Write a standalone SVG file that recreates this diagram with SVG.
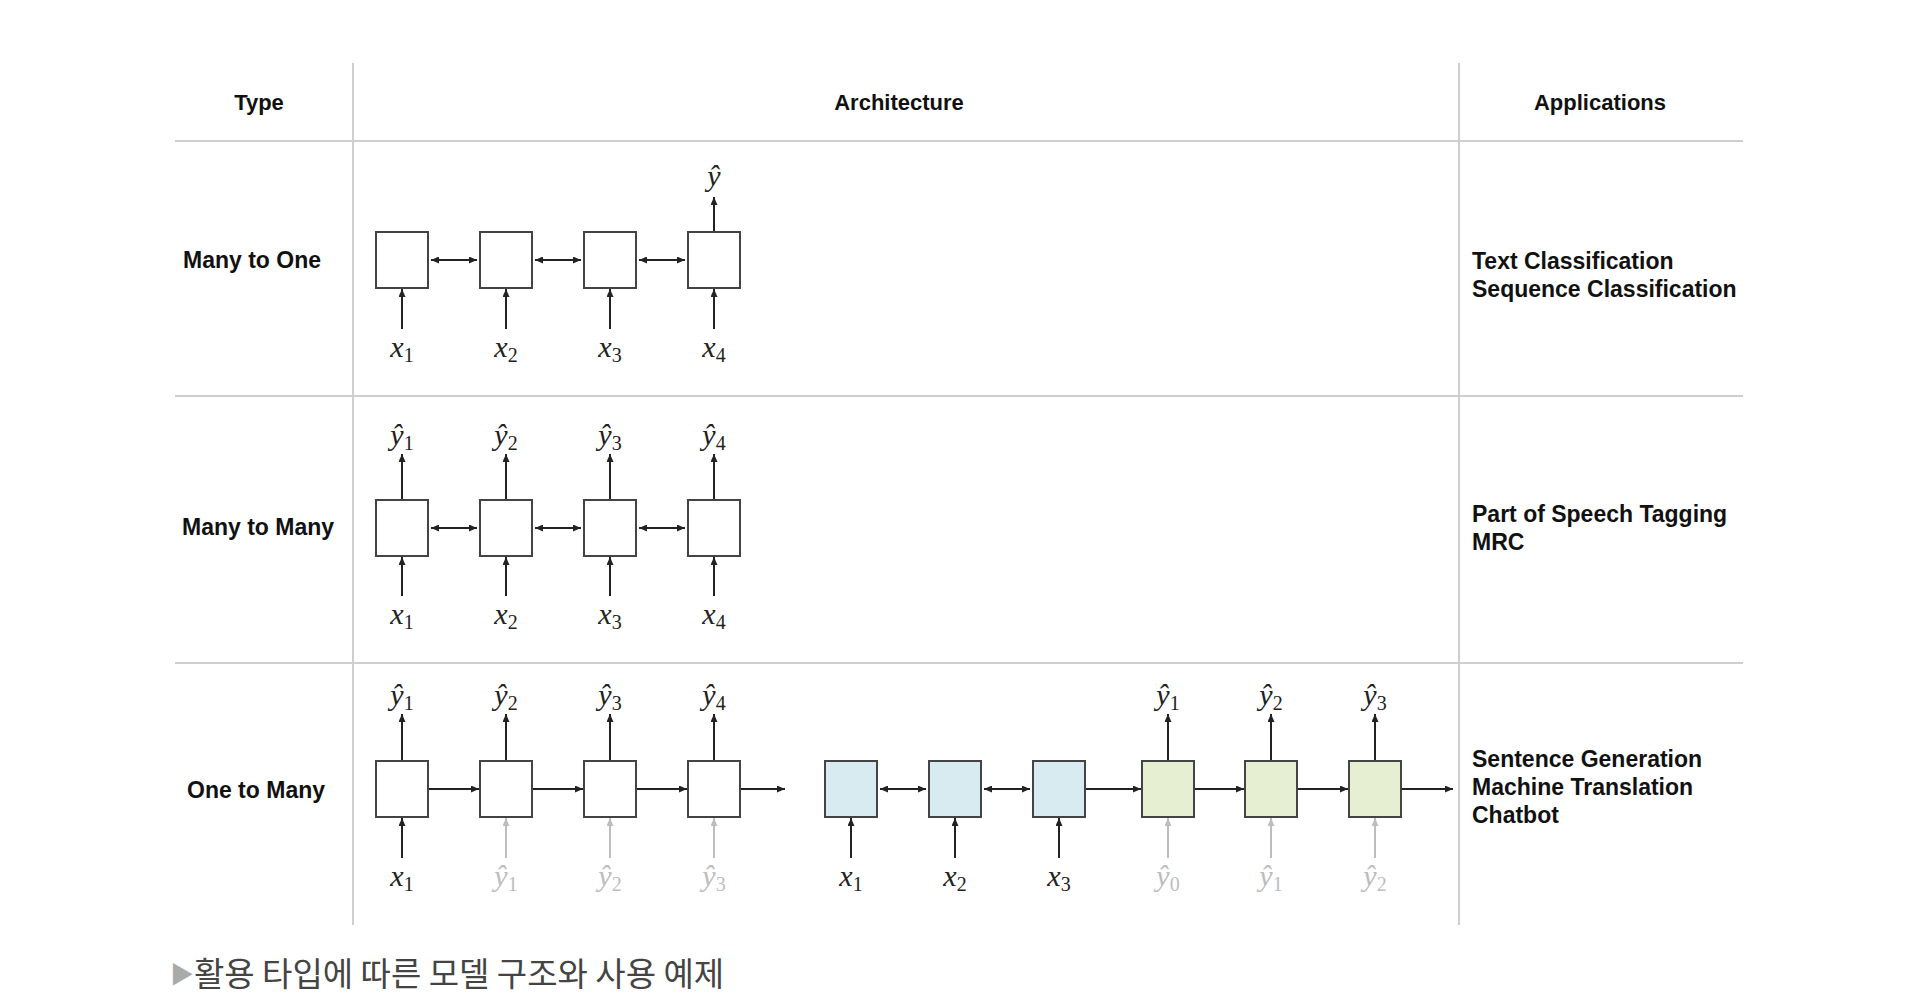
<svg xmlns="http://www.w3.org/2000/svg" width="1930" height="999" viewBox="0 0 1930 999">
<style>
.grid{stroke:#cfcfcf;stroke-width:2;fill:none}
.hdr{font-family:"Liberation Sans",Arial,sans-serif;font-weight:bold;font-size:22px;fill:#111;text-anchor:middle}
.lbl{font-family:"Liberation Sans",Arial,sans-serif;font-weight:bold;font-size:23px;fill:#111}
.box{fill:#fff;stroke:#444;stroke-width:2}
.enc{fill:#d8ebf0;stroke:#444;stroke-width:2}
.dec{fill:#e6efd2;stroke:#444;stroke-width:2}
.m{font-family:"Liberation Serif","Times New Roman",serif;font-style:italic;font-size:30px;fill:#222;text-anchor:middle}
.m tspan{font-size:20px;font-style:normal}
.mg{fill:#bdbdbd}
.c{stroke:#222;stroke-width:2;fill:none}
.cg{stroke:#bdbdbd;stroke-width:2;fill:none}
.cap{font-family:"Noto Sans CJK KR","Noto Sans",sans-serif;font-size:33px;fill:#444}
</style>
<defs>
<marker id="ah" viewBox="0 0 8 7" refX="8" refY="3.5" markerWidth="8" markerHeight="7" markerUnits="userSpaceOnUse" orient="auto-start-reverse"><path d="M0,0 L8,3.5 L0,7 z" fill="#222"/></marker>
<marker id="ahg" viewBox="0 0 8 7" refX="8" refY="3.5" markerWidth="8" markerHeight="7" markerUnits="userSpaceOnUse" orient="auto-start-reverse"><path d="M0,0 L8,3.5 L0,7 z" fill="#bdbdbd"/></marker>
</defs>
<rect width="1930" height="999" fill="#fff"/>

<g id="table">
<line class="grid" x1="353" y1="63" x2="353" y2="925"/>
<line class="grid" x1="1459" y1="63" x2="1459" y2="925"/>
<line class="grid" x1="175" y1="141" x2="1743" y2="141"/>
<line class="grid" x1="175" y1="396" x2="1743" y2="396"/>
<line class="grid" x1="175" y1="663" x2="1743" y2="663"/>
<text class="hdr" x="259" y="110">Type</text>
<text class="hdr" x="899" y="110">Architecture</text>
<text class="hdr" x="1600" y="110">Applications</text>
<text class="lbl" x="183" y="268">Many to One</text>
<text class="lbl" x="182" y="535">Many to Many</text>
<text class="lbl" x="187" y="798">One to Many</text>
<text class="lbl" x="1472" y="269">Text Classification</text>
<text class="lbl" x="1472" y="297">Sequence Classification</text>
<text class="lbl" x="1472" y="522">Part of Speech Tagging</text>
<text class="lbl" x="1472" y="550">MRC</text>
<text class="lbl" x="1472" y="767">Sentence Generation</text>
<text class="lbl" x="1472" y="795">Machine Translation</text>
<text class="lbl" x="1472" y="823">Chatbot</text>
</g>

<g id="connectors">
<line class="c" x1="431" y1="260" x2="477" y2="260" marker-start="url(#ah)" marker-end="url(#ah)"/>
<line class="c" x1="535" y1="260" x2="581" y2="260" marker-start="url(#ah)" marker-end="url(#ah)"/>
<line class="c" x1="639" y1="260" x2="685" y2="260" marker-start="url(#ah)" marker-end="url(#ah)"/>
<line class="c" x1="402" y1="329" x2="402" y2="289" marker-end="url(#ah)"/>
<line class="c" x1="506" y1="329" x2="506" y2="289" marker-end="url(#ah)"/>
<line class="c" x1="610" y1="329" x2="610" y2="289" marker-end="url(#ah)"/>
<line class="c" x1="714" y1="329" x2="714" y2="289" marker-end="url(#ah)"/>
<line class="c" x1="714" y1="231" x2="714" y2="197" marker-end="url(#ah)"/>
<line class="c" x1="431" y1="528" x2="477" y2="528" marker-start="url(#ah)" marker-end="url(#ah)"/>
<line class="c" x1="535" y1="528" x2="581" y2="528" marker-start="url(#ah)" marker-end="url(#ah)"/>
<line class="c" x1="639" y1="528" x2="685" y2="528" marker-start="url(#ah)" marker-end="url(#ah)"/>
<line class="c" x1="402" y1="596" x2="402" y2="557" marker-end="url(#ah)"/>
<line class="c" x1="506" y1="596" x2="506" y2="557" marker-end="url(#ah)"/>
<line class="c" x1="610" y1="596" x2="610" y2="557" marker-end="url(#ah)"/>
<line class="c" x1="714" y1="596" x2="714" y2="557" marker-end="url(#ah)"/>
<line class="c" x1="402" y1="499" x2="402" y2="454" marker-end="url(#ah)"/>
<line class="c" x1="506" y1="499" x2="506" y2="454" marker-end="url(#ah)"/>
<line class="c" x1="610" y1="499" x2="610" y2="454" marker-end="url(#ah)"/>
<line class="c" x1="714" y1="499" x2="714" y2="454" marker-end="url(#ah)"/>
<line class="c" x1="429" y1="789" x2="479" y2="789" marker-end="url(#ah)"/>
<line class="c" x1="533" y1="789" x2="583" y2="789" marker-end="url(#ah)"/>
<line class="c" x1="637" y1="789" x2="687" y2="789" marker-end="url(#ah)"/>
<line class="c" x1="741" y1="789" x2="785" y2="789" marker-end="url(#ah)"/>
<line class="c" x1="402" y1="858" x2="402" y2="818" marker-end="url(#ah)"/>
<line class="cg" x1="506" y1="858" x2="506" y2="818" marker-end="url(#ahg)"/>
<line class="cg" x1="610" y1="858" x2="610" y2="818" marker-end="url(#ahg)"/>
<line class="cg" x1="714" y1="858" x2="714" y2="818" marker-end="url(#ahg)"/>
<line class="c" x1="402" y1="760" x2="402" y2="714" marker-end="url(#ah)"/>
<line class="c" x1="506" y1="760" x2="506" y2="714" marker-end="url(#ah)"/>
<line class="c" x1="610" y1="760" x2="610" y2="714" marker-end="url(#ah)"/>
<line class="c" x1="714" y1="760" x2="714" y2="714" marker-end="url(#ah)"/>
<line class="c" x1="880" y1="789" x2="926" y2="789" marker-start="url(#ah)" marker-end="url(#ah)"/>
<line class="c" x1="984" y1="789" x2="1030" y2="789" marker-start="url(#ah)" marker-end="url(#ah)"/>
<line class="c" x1="1086" y1="789" x2="1141" y2="789" marker-end="url(#ah)"/>
<line class="c" x1="1195" y1="789" x2="1244" y2="789" marker-end="url(#ah)"/>
<line class="c" x1="1298" y1="789" x2="1348" y2="789" marker-end="url(#ah)"/>
<line class="c" x1="1402" y1="789" x2="1453" y2="789" marker-end="url(#ah)"/>
<line class="c" x1="851" y1="858" x2="851" y2="818" marker-end="url(#ah)"/>
<line class="c" x1="955" y1="858" x2="955" y2="818" marker-end="url(#ah)"/>
<line class="c" x1="1059" y1="858" x2="1059" y2="818" marker-end="url(#ah)"/>
<line class="cg" x1="1168" y1="858" x2="1168" y2="818" marker-end="url(#ahg)"/>
<line class="cg" x1="1271" y1="858" x2="1271" y2="818" marker-end="url(#ahg)"/>
<line class="cg" x1="1375" y1="858" x2="1375" y2="818" marker-end="url(#ahg)"/>
<line class="c" x1="1168" y1="760" x2="1168" y2="714" marker-end="url(#ah)"/>
<line class="c" x1="1271" y1="760" x2="1271" y2="714" marker-end="url(#ah)"/>
<line class="c" x1="1375" y1="760" x2="1375" y2="714" marker-end="url(#ah)"/>
</g>

<g id="row1">
<g id="r1n1"><rect class="box" x="376" y="232" width="52" height="56"/><text class="m" x="402" y="357">x<tspan dy="5">1</tspan></text></g>
<g id="r1n2"><rect class="box" x="480" y="232" width="52" height="56"/><text class="m" x="506" y="357">x<tspan dy="5">2</tspan></text></g>
<g id="r1n3"><rect class="box" x="584" y="232" width="52" height="56"/><text class="m" x="610" y="357">x<tspan dy="5">3</tspan></text></g>
<g id="r1n4"><rect class="box" x="688" y="232" width="52" height="56"/><text class="m" x="714" y="357">x<tspan dy="5">4</tspan></text><text class="m" x="714" y="186">ŷ</text></g>
</g>

<g id="row2">
<g id="r2n1"><rect class="box" x="376" y="500" width="52" height="56"/><text class="m" x="402" y="624">x<tspan dy="5">1</tspan></text><text class="m" x="402" y="445">ŷ<tspan dy="5">1</tspan></text></g>
<g id="r2n2"><rect class="box" x="480" y="500" width="52" height="56"/><text class="m" x="506" y="624">x<tspan dy="5">2</tspan></text><text class="m" x="506" y="445">ŷ<tspan dy="5">2</tspan></text></g>
<g id="r2n3"><rect class="box" x="584" y="500" width="52" height="56"/><text class="m" x="610" y="624">x<tspan dy="5">3</tspan></text><text class="m" x="610" y="445">ŷ<tspan dy="5">3</tspan></text></g>
<g id="r2n4"><rect class="box" x="688" y="500" width="52" height="56"/><text class="m" x="714" y="624">x<tspan dy="5">4</tspan></text><text class="m" x="714" y="445">ŷ<tspan dy="5">4</tspan></text></g>
</g>

<g id="row3">
<g id="r3n1"><rect class="box" x="376" y="761" width="52" height="56"/><text class="m" x="402" y="886">x<tspan dy="5">1</tspan></text><text class="m" x="402" y="705">ŷ<tspan dy="5">1</tspan></text></g>
<g id="r3n2"><rect class="box" x="480" y="761" width="52" height="56"/><text class="m mg" x="506" y="886">ŷ<tspan dy="5">1</tspan></text><text class="m" x="506" y="705">ŷ<tspan dy="5">2</tspan></text></g>
<g id="r3n3"><rect class="box" x="584" y="761" width="52" height="56"/><text class="m mg" x="610" y="886">ŷ<tspan dy="5">2</tspan></text><text class="m" x="610" y="705">ŷ<tspan dy="5">3</tspan></text></g>
<g id="r3n4"><rect class="box" x="688" y="761" width="52" height="56"/><text class="m mg" x="714" y="886">ŷ<tspan dy="5">3</tspan></text><text class="m" x="714" y="705">ŷ<tspan dy="5">4</tspan></text></g>
<g id="enc1"><rect class="enc" x="825" y="761" width="52" height="56"/><text class="m" x="851" y="886">x<tspan dy="5">1</tspan></text></g>
<g id="enc2"><rect class="enc" x="929" y="761" width="52" height="56"/><text class="m" x="955" y="886">x<tspan dy="5">2</tspan></text></g>
<g id="enc3"><rect class="enc" x="1033" y="761" width="52" height="56"/><text class="m" x="1059" y="886">x<tspan dy="5">3</tspan></text></g>
<g id="dec1"><rect class="dec" x="1142" y="761" width="52" height="56"/><text class="m mg" x="1168" y="886">ŷ<tspan dy="5">0</tspan></text><text class="m" x="1168" y="705">ŷ<tspan dy="5">1</tspan></text></g>
<g id="dec2"><rect class="dec" x="1245" y="761" width="52" height="56"/><text class="m mg" x="1271" y="886">ŷ<tspan dy="5">1</tspan></text><text class="m" x="1271" y="705">ŷ<tspan dy="5">2</tspan></text></g>
<g id="dec3"><rect class="dec" x="1349" y="761" width="52" height="56"/><text class="m mg" x="1375" y="886">ŷ<tspan dy="5">2</tspan></text><text class="m" x="1375" y="705">ŷ<tspan dy="5">3</tspan></text></g>
</g>

<g id="caption">
<text class="cap" x="170" y="986"><tspan fill="#aaa" font-size="24px" dy="-3">▶</tspan><tspan dy="3">활용 타입에 따른 모델 구조와 사용 예제</tspan></text>
</g>
</svg>
